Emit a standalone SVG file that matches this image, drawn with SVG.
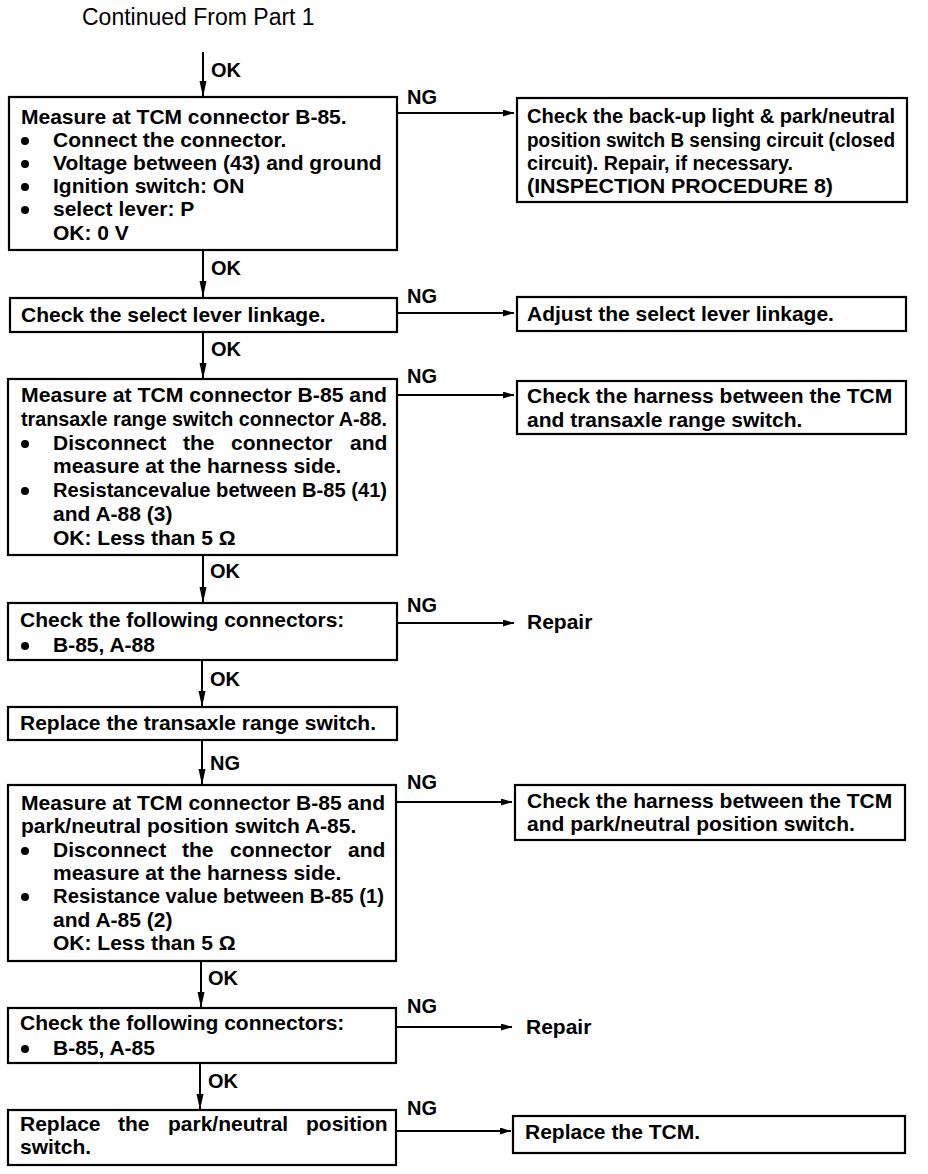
<svg xmlns="http://www.w3.org/2000/svg" width="928" height="1174" viewBox="0 0 928 1174">
<defs>
<style>
.bx{fill:#fff;stroke:#000;stroke-width:2.2}
.t{font-family:"Liberation Sans",Arial,sans-serif;font-weight:bold;font-size:21px;fill:#000}
.t20{font-family:"Liberation Sans",Arial,sans-serif;font-weight:bold;font-size:20px;fill:#000}
.lb{font-family:"Liberation Sans",Arial,sans-serif;font-weight:bold;font-size:20px;fill:#000}
.ln{fill:none;stroke:#000;stroke-width:2}
.bu{fill:#000}
</style>
<marker id="ad" markerUnits="userSpaceOnUse" viewBox="0 0 16 8" refX="16" refY="4" markerWidth="16" markerHeight="8" orient="auto">
<path d="M0,0.5 L16,4 L0,7.5 z" fill="#000"/>
</marker>
<marker id="ar" markerUnits="userSpaceOnUse" viewBox="0 0 11 7" refX="11" refY="3.5" markerWidth="11" markerHeight="7" orient="auto">
<path d="M0,0 L11,3.5 L0,7 z" fill="#000"/>
</marker>
</defs>
<rect width="928" height="1174" fill="#fff"/>
<text x="82" y="25" font-family="Liberation Sans, Arial, sans-serif" font-size="23" fill="#000">Continued From Part 1</text>

<g id="connectors">
<line class="ln" x1="203" y1="52" x2="203" y2="97" marker-end="url(#ad)"/>
<text class="lb" x="211" y="77">OK</text>
<line class="ln" x1="203" y1="250" x2="203" y2="297" marker-end="url(#ad)"/>
<text class="lb" x="211" y="275">OK</text>
<line class="ln" x1="203" y1="332" x2="203" y2="379" marker-end="url(#ad)"/>
<text class="lb" x="211" y="356">OK</text>
<line class="ln" x1="203" y1="555" x2="203" y2="603" marker-end="url(#ad)"/>
<text class="lb" x="210" y="578">OK</text>
<line class="ln" x1="202" y1="660" x2="202" y2="707" marker-end="url(#ad)"/>
<text class="lb" x="210" y="686">OK</text>
<line class="ln" x1="202" y1="740" x2="202" y2="785" marker-end="url(#ad)"/>
<text class="lb" x="210" y="770">NG</text>
<line class="ln" x1="201" y1="960" x2="201" y2="1008" marker-end="url(#ad)"/>
<text class="lb" x="208" y="985">OK</text>
<line class="ln" x1="200" y1="1063" x2="200" y2="1110" marker-end="url(#ad)"/>
<text class="lb" x="208" y="1088">OK</text>

<line class="ln" x1="397" y1="113" x2="514" y2="113" marker-end="url(#ar)"/>
<text class="lb" x="407" y="104">NG</text>
<line class="ln" x1="397" y1="313" x2="514" y2="313" marker-end="url(#ar)"/>
<text class="lb" x="407" y="303">NG</text>
<line class="ln" x1="397" y1="395" x2="514" y2="395" marker-end="url(#ar)"/>
<text class="lb" x="407" y="383">NG</text>
<line class="ln" x1="397" y1="623" x2="514" y2="623" marker-end="url(#ar)"/>
<text class="lb" x="407" y="612">NG</text>
<line class="ln" x1="396" y1="802" x2="512" y2="802" marker-end="url(#ar)"/>
<text class="lb" x="407" y="789">NG</text>
<line class="ln" x1="396" y1="1027" x2="512" y2="1027" marker-end="url(#ar)"/>
<text class="lb" x="407" y="1013">NG</text>
<line class="ln" x1="396" y1="1131" x2="511" y2="1131" marker-end="url(#ar)"/>
<text class="lb" x="407" y="1115">NG</text>
</g>

<g id="b1">
<rect class="bx" x="9" y="97" width="388" height="153"/>
<text class="t" x="21" y="124">Measure at TCM connector B-85.</text>
<circle class="bu" cx="25" cy="141" r="4"/>
<text class="t" x="53" y="147">Connect the connector.</text>
<circle class="bu" cx="25" cy="164" r="4"/>
<text class="t" x="53" y="170">Voltage between (43) and ground</text>
<circle class="bu" cx="25" cy="187" r="4"/>
<text class="t" x="53" y="193">Ignition switch: ON</text>
<circle class="bu" cx="25" cy="210" r="4"/>
<text class="t" x="53" y="216">select lever: P</text>
<text class="t" x="53" y="240">OK: 0 V</text>
</g>

<g id="r1">
<rect class="bx" x="517" y="98" width="390" height="104"/>
<text class="t20" x="527" y="123" textLength="368" lengthAdjust="spacingAndGlyphs">Check the back-up light &amp; park/neutral</text>
<text class="t20" x="527" y="147" textLength="368" lengthAdjust="spacingAndGlyphs">position switch B sensing circuit (closed</text>
<text class="t20" x="527" y="170" textLength="266" lengthAdjust="spacingAndGlyphs">circuit).  Repair,  if  necessary.</text>
<text class="t20" x="527" y="193" textLength="306" lengthAdjust="spacingAndGlyphs">(INSPECTION  PROCEDURE  8)</text>
</g>

<g id="b2">
<rect class="bx" x="10" y="298" width="387" height="34"/>
<text class="t" x="21" y="322">Check the select lever linkage.</text>
</g>

<g id="r2">
<rect class="bx" x="517" y="297" width="389" height="34"/>
<text class="t" x="527" y="321">Adjust the select lever linkage.</text>
</g>

<g id="b3">
<rect class="bx" x="8" y="379" width="389" height="176"/>
<text class="t" x="21" y="402" textLength="366" lengthAdjust="spacingAndGlyphs">Measure at TCM connector B-85 and</text>
<text class="t" x="21" y="426" textLength="366" lengthAdjust="spacingAndGlyphs">transaxle range switch connector A-88.</text>
<circle class="bu" cx="25" cy="444" r="4"/>
<text class="t" y="450"><tspan x="53">Disconnect</tspan><tspan x="183">the</tspan><tspan x="231">connector</tspan><tspan x="350">and</tspan></text>
<text class="t" x="53" y="473">measure at the harness side.</text>
<circle class="bu" cx="25" cy="491" r="4"/>
<text class="t" x="53" y="497" textLength="334" lengthAdjust="spacingAndGlyphs">Resistancevalue between B-85 (41)</text>
<text class="t" x="53" y="521">and A-88 (3)</text>
<text class="t" x="53" y="545">OK: Less than 5 Ω</text>
</g>

<g id="r3">
<rect class="bx" x="517" y="381" width="389" height="53"/>
<text class="t" x="527" y="403">Check the harness between the TCM</text>
<text class="t" x="527" y="427">and transaxle range switch.</text>
</g>

<g id="b4">
<rect class="bx" x="8" y="603" width="389" height="57"/>
<text class="t" x="20" y="627">Check the following connectors:</text>
<circle class="bu" cx="25" cy="646" r="4"/>
<text class="t" x="53" y="652">B-85, A-88</text>
</g>

<g id="rep1">
<text class="t" x="527" y="629">Repair</text>
</g>

<g id="b5">
<rect class="bx" x="8" y="707" width="389" height="33"/>
<text class="t" x="20" y="730">Replace the transaxle range switch.</text>
</g>

<g id="b6">
<rect class="bx" x="8" y="785" width="388" height="176"/>
<text class="t" x="21" y="810" textLength="364" lengthAdjust="spacingAndGlyphs">Measure at TCM connector B-85 and</text>
<text class="t" x="21" y="833">park/neutral position switch A-85.</text>
<circle class="bu" cx="25" cy="851" r="4"/>
<text class="t" y="857"><tspan x="53">Disconnect</tspan><tspan x="182">the</tspan><tspan x="230">connector</tspan><tspan x="348">and</tspan></text>
<text class="t" x="53" y="880">measure at the harness side.</text>
<circle class="bu" cx="25" cy="897" r="4"/>
<text class="t" x="53" y="903" textLength="331" lengthAdjust="spacingAndGlyphs">Resistance value between B-85 (1)</text>
<text class="t" x="53" y="927">and A-85 (2)</text>
<text class="t" x="53" y="950">OK: Less than 5 Ω</text>
</g>

<g id="r6">
<rect class="bx" x="515" y="785" width="390" height="55"/>
<text class="t" x="527" y="808">Check the harness between the TCM</text>
<text class="t" x="527" y="831">and park/neutral position switch.</text>
</g>

<g id="b7">
<rect class="bx" x="8" y="1008" width="388" height="55"/>
<text class="t" x="20" y="1030">Check the following connectors:</text>
<circle class="bu" cx="25" cy="1049" r="4"/>
<text class="t" x="53" y="1055">B-85, A-85</text>
</g>

<g id="rep2">
<text class="t" x="526" y="1034">Repair</text>
</g>

<g id="b8">
<rect class="bx" x="8" y="1110" width="388" height="55"/>
<text class="t" y="1131"><tspan x="20">Replace</tspan><tspan x="118">the</tspan><tspan x="168">park/neutral</tspan><tspan x="306">position</tspan></text>
<text class="t" x="20" y="1154">switch.</text>
</g>

<g id="r8">
<rect class="bx" x="513" y="1116" width="392" height="37"/>
<text class="t" x="525" y="1139">Replace the TCM.</text>
</g>
</svg>
